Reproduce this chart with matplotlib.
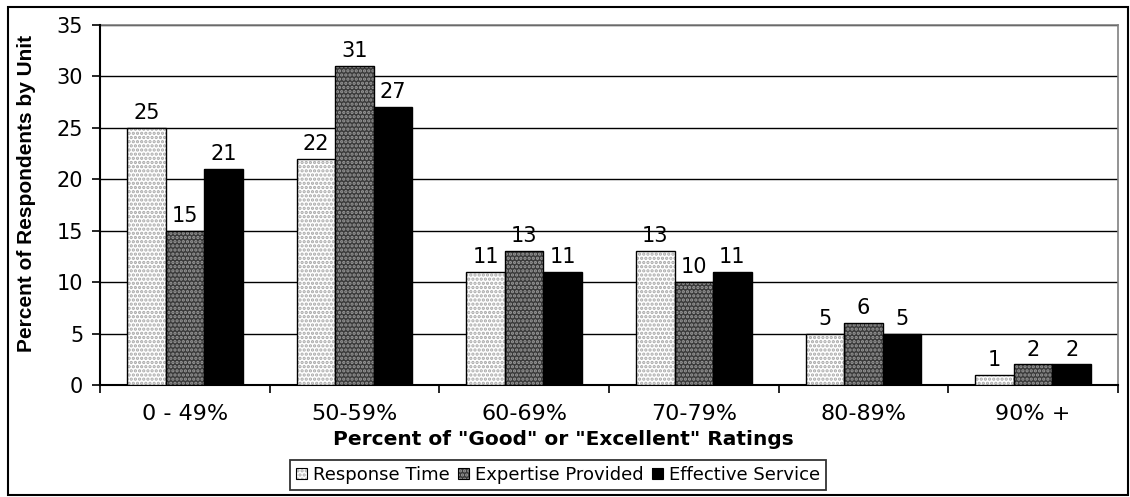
import matplotlib
matplotlib.use("Agg")
import matplotlib.pyplot as plt
import numpy as np
from matplotlib.patches import Rectangle

plt.rcParams['font.family'] = ['DejaVu Sans']
plt.rcParams['hatch.linewidth'] = 1.6

categories = ["0 - 49%", "50-59%", "60-69%", "70-79%", "80-89%", "90% +"]
series_names = ["Response Time", "Expertise Provided", "Effective Service"]
response_time = [25, 22, 11, 13, 5, 1]
expertise = [15, 31, 13, 10, 6, 2]
effective = [21, 27, 11, 11, 5, 2]
series = [response_time, expertise, effective]
yticks = [0, 5, 10, 15, 20, 25, 30, 35]

fig = plt.figure(figsize=(11.3, 4.97), dpi=100)
ax = fig.add_axes([100 / 1130, 1 - 385 / 497, 1018 / 1130, 360 / 497])

styles = [
    dict(face='white', hatch='....', hcol='#a8a8a8'),
    dict(face='#3a3a3a', hatch='....', hcol='#9a9a9a'),
    dict(face='black', hatch=None, hcol='black'),
]

x = np.arange(len(categories))
w = 0.227
for i, (vals, st) in enumerate(zip(series, styles)):
    pos = x + (i - 1) * w
    ax.bar(pos, vals, width=w, color=st['face'], hatch=st['hatch'],
           edgecolor=st['hcol'], linewidth=0, zorder=3)
    ax.bar(pos, vals, width=w, fill=False, edgecolor='black',
           linewidth=1.0, zorder=4)
    for p, v in zip(pos, vals):
        ax.annotate(str(v), (p, v), xytext=(0, 3.5), textcoords='offset points',
                    ha='center', va='bottom', fontsize=15, zorder=5)

ax.set_xlim(-0.5, len(categories) - 0.5)
ax.set_ylim(0, 35)
ax.set_yticks(yticks)
ax.set_yticklabels([str(t) for t in yticks], fontsize=15)
ax.yaxis.grid(True, color='black', linewidth=1.0)
ax.set_axisbelow(True)

ax.set_xticks(x)
ax.set_xticklabels(categories, fontsize=16)
ax.tick_params(axis='x', which='major', length=0, pad=14)
ax.set_xticks(np.arange(len(categories) + 1) - 0.5, minor=True)
ax.tick_params(axis='x', which='minor', length=6, width=1.2, direction='out')
ax.tick_params(axis='y', length=6, width=1.2, direction='out', pad=6)

for s in ['left', 'bottom']:
    ax.spines[s].set_color('black')
    ax.spines[s].set_linewidth(1.5)
for s in ['top', 'right']:
    ax.spines[s].set_color('#808080')
    ax.spines[s].set_linewidth(1.2)
    ax.spines[s].set_zorder(2)

ax.set_xlabel('Percent of "Good" or "Excellent" Ratings', fontsize=14.5,
              fontweight='bold')
ax.xaxis.set_label_coords((563 - 100) / 1018, (385 - 430) / 360)
ax.set_ylabel('Percent of Respondents by Unit', fontsize=15,
              fontweight='bold', family=['Liberation Sans', 'DejaVu Sans'])
ax.yaxis.set_label_coords(-(100 - 36) / 1018, (385 - 193) / 360)

leg = fig.legend([
    (Rectangle((0, 0), 1, 1, facecolor=s['face'], hatch=s['hatch'], edgecolor=s['hcol'], linewidth=0),
     Rectangle((0, 0), 1, 1, fill=False, edgecolor='black', linewidth=0.8))
    for s in styles], series_names,
    loc='center', bbox_to_anchor=(558 / 1130, 1 - 475 / 497), ncol=3, fontsize=13,
    frameon=True, fancybox=False, edgecolor='black', handlelength=0.6,
    handleheight=0.6, handletextpad=0.35, columnspacing=0.45, borderpad=0.35,
    borderaxespad=0)
leg.get_frame().set_linewidth(1.3)

fig.patches.append(Rectangle((8 / 1130, 2 / 497), 1120 / 1130, 488 / 497,
                             transform=fig.transFigure, fill=False,
                             edgecolor='black', linewidth=1.5))

fig.savefig('out.png', dpi=100)
